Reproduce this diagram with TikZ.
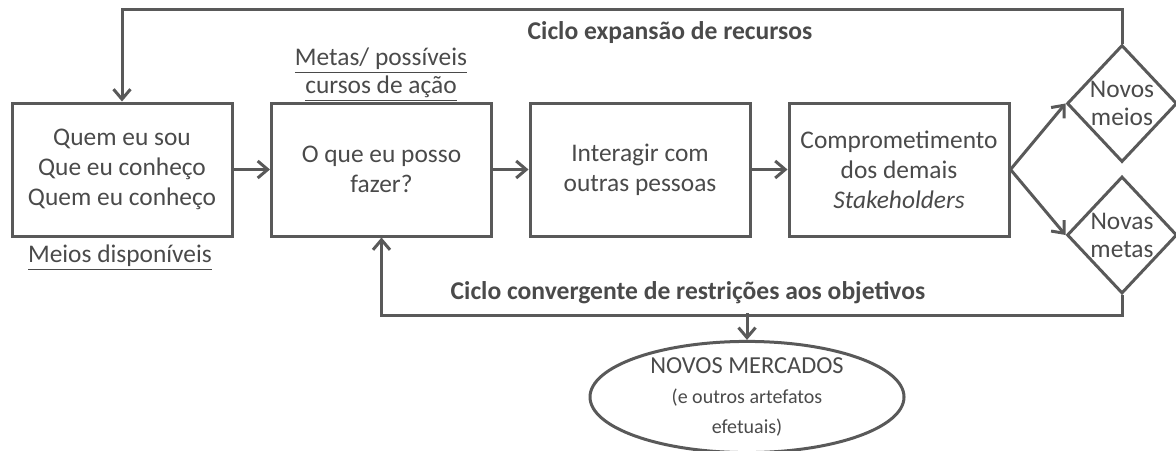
\documentclass[tikz,border=0pt]{standalone}
\usepackage{fontspec}
\setmainfont{Carlito}
\usetikzlibrary{positioning,shapes.geometric,arrows.meta}
\definecolor{linegray}{HTML}{595959}
\definecolor{textgray}{HTML}{4A4A4A}

\begin{document}
\begin{tikzpicture}[x=0.5pt,y=-0.5pt,
	box/.style={draw=linegray, line width=1.5pt, minimum width=110pt, minimum height=66.5pt, align=center, text=textgray, font=\fontsize{12.7}{15}\selectfont},
	choice/.style={diamond, draw=linegray, line width=1.5pt, inner sep=0pt, minimum width=55pt, minimum height=58.5pt, aspect=0.94, align=center, text=textgray, font=\fontsize{12.7}{14}\selectfont},
	flow/.style={draw=linegray, line width=1.5pt, -{Straight Barb[length=5pt,width=8.5pt]}},
	cyclelabel/.style={text=textgray, font=\bfseries\fontsize{12.8}{15}\selectfont},
	caption/.style={text=textgray, align=center, font=\fontsize{12.7}{12}\selectfont}]
		\useasboundingbox (0,0) rectangle (1176,450);
		\node[box] (self) at (122,169.5) {Quem eu sou\\Que eu conheço\\Quem eu conheço};
		\node[box] (act) at (381.5,169.5) {O que eu posso\\fazer?};
		\node[box] (talk) at (640,169.5) {Interagir com\\outras pessoas};
		\node[box] (commit) at (899,169.5) {Comprometimento\\dos demais\\\textit{Stakeholders}};
		\node[choice] (means) at (1122,103.5) {Novos\\meios};
		\node[choice] (goals) at (1122,235) {Novas\\metas};
		\node[ellipse, draw=linegray, line width=1.5pt, minimum width=157pt, minimum height=51pt, inner sep=0pt, align=center, text=textgray, font=\fontsize{10}{15}\selectfont] (market) at (747,397) {{\fontsize{12.2}{15}\selectfont NOVOS MERCADOS}\\(e outros artefatos\\efetuais)};
		\node[caption] (meanslabel) at (120,258) {\underline{Meios disponíveis}};
		\node[caption] (goallabel) at (381,75) {\underline{Metas/ possíveis}\\\underline{cursos de ação}};
		\node[cyclelabel] (grow) at (670,33) {Ciclo expansão de recursos};
		\node[cyclelabel] (shrink) at (688,293) {Ciclo convergente de restrições aos objetivos};
		\coordinate (split) at (747,313);
		\draw[flow] (self.east) -- (act.west);
		\draw[flow] (act.east) -- (talk.west);
		\draw[flow] (talk.east) -- (commit.west);
		\draw[flow] (commit.east) -- (means.west);
		\draw[flow] (commit.east) -- (goals.west);
		\draw[flow] (means.north) -- ++(0,-34) -| (self.north);
		\draw[flow] (goals.south) -- ++(0,20) -| (act.south);
		\draw[flow] (split) -- (market.north);
	\end{tikzpicture}
\end{document}
